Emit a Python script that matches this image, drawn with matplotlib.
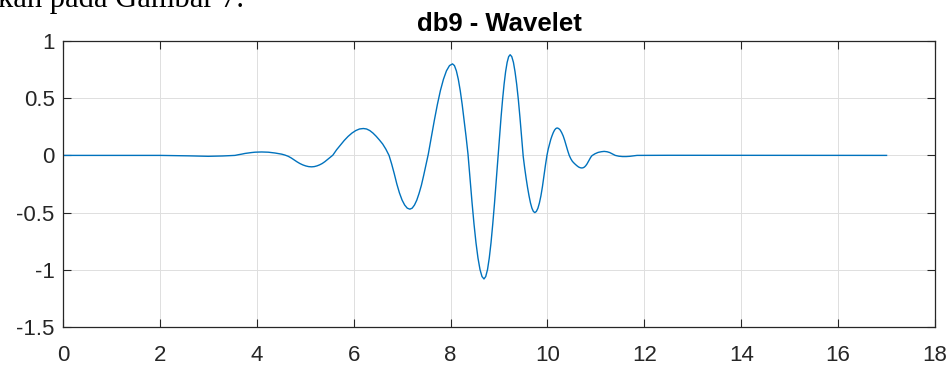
"""db9 wavelet plot in MATLAB figure style."""

import matplotlib
matplotlib.use('Agg')
import matplotlib.pyplot as plt

# Points
t = [0.0, 2.0, 2.6, 3.0, 3.3, 3.55,
     3.619, 3.688, 3.756, 3.825, 3.894, 3.963, 4.031, 4.1,
     4.169, 4.238, 4.306, 4.375, 4.444, 4.513, 4.581, 4.65,
     4.71, 4.77, 4.83, 4.89, 4.95, 5.01, 5.07, 5.13,
     5.185, 5.24, 5.295, 5.35, 5.405, 5.46, 5.515, 5.57,
     5.649, 5.728, 5.806, 5.885, 5.964, 6.043, 6.121, 6.2,
     6.266, 6.333, 6.399, 6.465, 6.531, 6.598, 6.664, 6.73,
     6.784, 6.838, 6.891, 6.945, 6.999, 7.053, 7.106, 7.16,
     7.208, 7.255, 7.303, 7.35, 7.398, 7.445, 7.493, 7.54,
     7.603, 7.665, 7.728, 7.79, 7.853, 7.915, 7.978, 8.04,
     8.08, 8.12, 8.16, 8.20, 8.24, 8.28, 8.32, 8.36,
     8.401, 8.443, 8.484, 8.525, 8.566, 8.608, 8.649, 8.69,
     8.726, 8.763, 8.799, 8.835, 8.871, 8.908, 8.944, 8.98,
     9.011, 9.043, 9.074, 9.105, 9.136, 9.168, 9.199, 9.23,
     9.264, 9.298, 9.331, 9.365, 9.399, 9.433, 9.466, 9.50,
     9.53, 9.56, 9.59, 9.62, 9.65, 9.68, 9.71, 9.74,
     9.771, 9.803, 9.834, 9.865, 9.896, 9.928, 9.959, 9.99,
     10.016, 10.043, 10.069, 10.095, 10.121, 10.148, 10.174, 10.2,
     10.231, 10.263, 10.294, 10.325, 10.356, 10.388, 10.419, 10.45,
     10.483, 10.515, 10.548, 10.58, 10.613, 10.645, 10.678, 10.71,
     10.736, 10.763, 10.789, 10.815, 10.841, 10.868, 10.894, 10.92,
     10.98, 11.045, 11.11, 11.17, 11.23, 11.285, 11.34, 11.4,
     11.475, 11.55, 11.625, 11.7, 11.775, 11.85, 12.5, 17.0]
psi = [0.0, 0.0, -0.004, -0.008, -0.005, 0.0,
       0.006, 0.011, 0.017, 0.021, 0.025, 0.028, 0.029, 0.03,
       0.029, 0.028, 0.025, 0.021, 0.016, 0.011, 0.003, -0.008,
       -0.022, -0.039, -0.056, -0.071, -0.083, -0.092, -0.098, -0.10,
       -0.098, -0.092, -0.083, -0.071, -0.055, -0.036, -0.017, 0.002,
       0.05, 0.09, 0.131, 0.166, 0.195, 0.217, 0.231, 0.235,
       0.231, 0.217, 0.195, 0.167, 0.135, 0.10, 0.055, 0.0,
       -0.075, -0.16, -0.25, -0.328, -0.39, -0.434, -0.461, -0.47,
       -0.461, -0.434, -0.391, -0.332, -0.261, -0.175, -0.082, 0.01,
       0.16, 0.306, 0.445, 0.566, 0.665, 0.739, 0.785, 0.80,
       0.785, 0.739, 0.665, 0.566, 0.445, 0.306, 0.165, 0.012,
       -0.2, -0.41, -0.600, -0.764, -0.897, -0.998, -1.059, -1.08,
       -1.059, -0.998, -0.897, -0.764, -0.600, -0.414, -0.211, 0.0,
       0.172, 0.337, 0.489, 0.622, 0.731, 0.813, 0.863, 0.88,
       0.863, 0.813, 0.731, 0.622, 0.489, 0.33, 0.16, -0.01,
       -0.11, -0.2, -0.282, -0.354, -0.416, -0.462, -0.49, -0.50,
       -0.49, -0.462, -0.416, -0.354, -0.275, -0.178, -0.085, 0.0,
       0.055, 0.10, 0.14, 0.172, 0.2, 0.222, 0.235, 0.24,
       0.235, 0.222, 0.199, 0.17, 0.131, 0.085, 0.04, 0.0,
       -0.03, -0.052, -0.067, -0.08, -0.092, -0.102, -0.108, -0.11,
       -0.108, -0.102, -0.091, -0.076, -0.056, -0.035, -0.016, -0.002,
       0.014, 0.026, 0.032, 0.035, 0.032, 0.025, 0.013, 0.0,
       -0.007, -0.01, -0.01, -0.008, -0.004, 0.0, 0.001, 0.0]

x_ticks = [0, 2, 4, 6, 8, 10, 12, 14, 16, 18]
y_ticks = [-1.5, -1, -0.5, 0, 0.5, 1]
y_labels = ['-1.5', '-1', '-0.5', '0', '0.5', '1']

plt.rcParams['font.family'] = ['Liberation Sans', 'DejaVu Sans']

fig = plt.figure(figsize=(9.51, 3.65), dpi=100)
ax = fig.add_axes([63 / 951, 38 / 365, 872 / 951, 286 / 365])

ax.plot(t, psi, color='#0072BD', lw=1.0)

# Limits and ticks
ax.set_xlim(0, 18)
ax.set_ylim(-1.5, 1)
ax.set_xticks(x_ticks)
ax.set_yticks(y_ticks, labels=y_labels)
ax.tick_params(direction='in', length=6, width=0.8, colors='#262626',
               labelsize=16, top=True, right=True)
ax.tick_params(axis='x', pad=13)
ax.tick_params(axis='y', pad=6)

# MATLAB-like grid and box
ax.grid(True, color='#dedede', lw=0.7)
ax.set_axisbelow(True)
for s in ax.spines.values():
    s.set_color('#262626')
    s.set_linewidth(0.9)

ax.set_title('db9 - Wavelet', fontsize=18.5, fontweight='bold', pad=7)

# Clipped line of document text above the figure
fig.text(-0.002, 1 - 7 / 365, 'kan pada Gambar 7.', family='Liberation Serif',
         fontsize=22, va='baseline', ha='left')

fig.savefig('out.png', dpi=100)
